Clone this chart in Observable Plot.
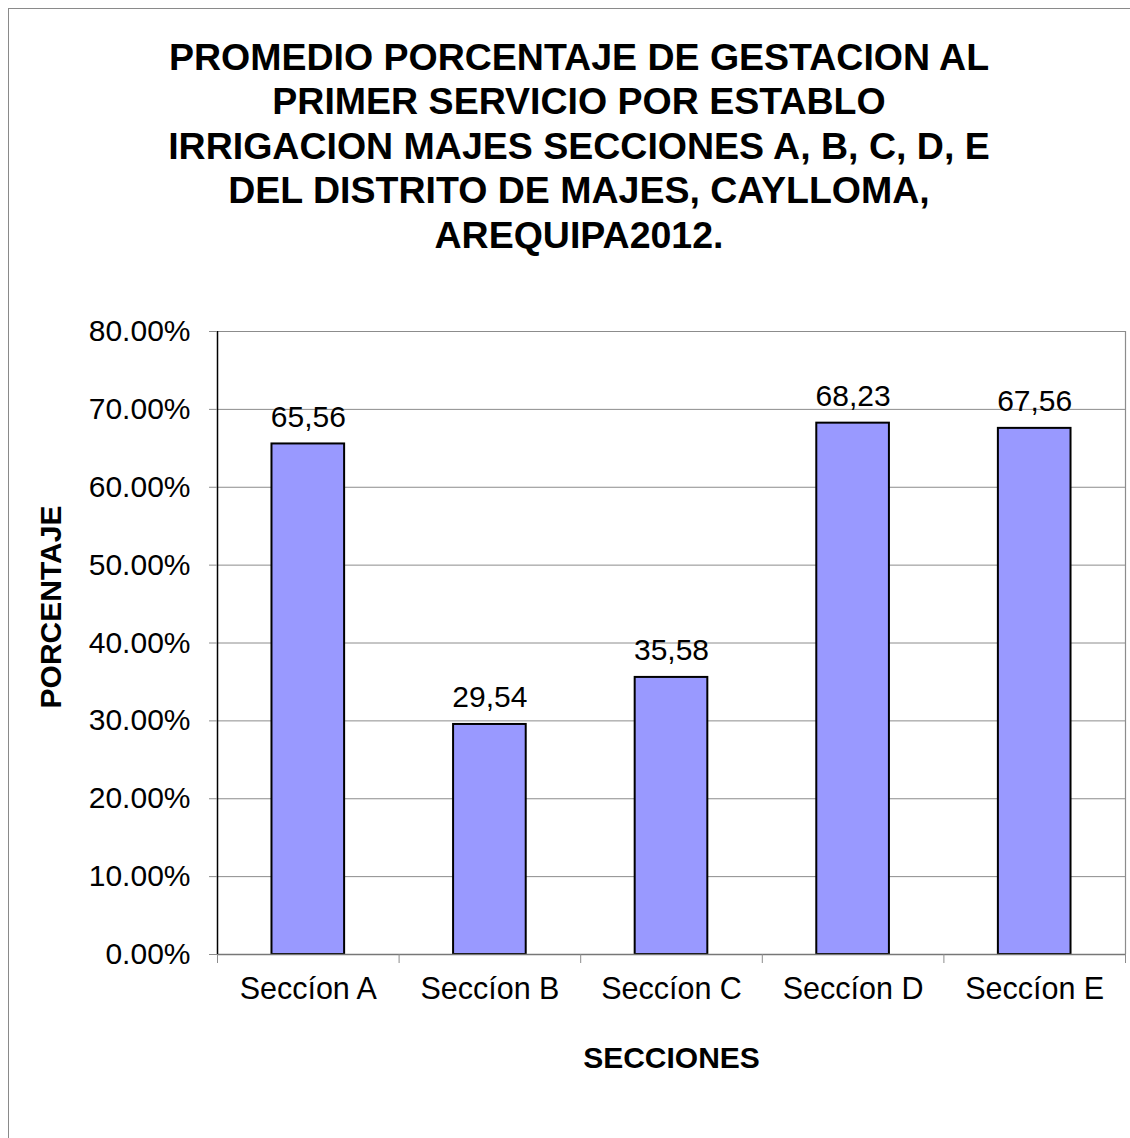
<!DOCTYPE html>
<html>
<head>
<meta charset="utf-8">
<script src="https://cdn.jsdelivr.net/npm/d3@7"></script>
<script src="https://cdn.jsdelivr.net/npm/@observablehq/plot@0.6"></script>
<style>
  html, body { margin: 0; padding: 0; background: #fff; overflow: hidden; }
  #wrap { position: relative; width: 1130px; height: 1138px; overflow: hidden; background: #fff;
          font-family: "Liberation Sans", Arial, sans-serif; }
  #frame { position: absolute; left: 8px; top: 8px; width: 1300px; height: 1300px;
           border: 1px solid #8a8a8a; box-sizing: border-box; }
  #title { position: absolute; left: 8px; top: 35px; width: 1142px; text-align: center;
           font-weight: bold; font-size: 37.5px; line-height: 44.4px; color: #000; margin: 0; }
  #chart { position: absolute; left: 0; top: 0; }
</style>
</head>
<body>
<div id="wrap">
  <div id="frame"></div>
  <div id="chart"></div>
  <div id="title"></div>
</div>
<script>
const titleLines = [
  "PROMEDIO PORCENTAJE DE GESTACION AL",
  "PRIMER SERVICIO POR ESTABLO",
  "IRRIGACION MAJES SECCIONES A, B, C, D, E",
  "DEL DISTRITO DE MAJES, CAYLLOMA,",
  "AREQUIPA2012."
];
const categories = ["Seccíon A", "Seccíon B", "Seccíon C", "Seccíon D", "Seccíon E"];
const values = [65.56, 29.54, 35.58, 68.23, 67.56];
const valueLabels = ["65,56", "29,54", "35,58", "68,23", "67,56"];
const yTicks = [0, 10, 20, 30, 40, 50, 60, 70, 80];
const yTitle = "PORCENTAJE";
const xTitle = "SECCIONES";

document.getElementById("title").innerHTML = titleLines.map(t => `<div>${t}</div>`).join("");

const data = categories.map((c, i) => ({cat: c, idx: i, value: values[i], label: valueLabels[i]}));
const barHalf = 0.2;
const boundaries = d3.range(categories.length + 1);
const centers = categories.map((c, i) => i + 0.5);

const chart = Plot.plot({
  width: 1130,
  height: 1138,
  marginLeft: 217,
  marginRight: 5,
  marginTop: 331,
  marginBottom: 184,
  style: {fontFamily: '"Liberation Sans", Arial, sans-serif', background: "transparent", color: "#000"},
  x: {domain: [0, categories.length], axis: null},
  y: {domain: [0, 80], axis: null},
  marks: [
    Plot.gridY(yTicks, {stroke: "#8c8c8c", strokeOpacity: 1, strokeWidth: 1}),
    Plot.ruleX([categories.length], {stroke: "#8c8c8c", strokeWidth: 1.2}),
    Plot.rectY(data, {x1: d => d.idx + 0.5 - barHalf, x2: d => d.idx + 0.5 + barHalf, y1: 0, y2: "value",
      fill: "#9999FF", stroke: "#000", strokeWidth: 2}),
    Plot.ruleY([0], {stroke: "#777", strokeWidth: 1.5}),
    Plot.ruleX([0], {stroke: "#000", strokeWidth: 1.5}),
    Plot.axisY({ticks: yTicks, tickFormat: d => d.toFixed(2) + "%", tickSize: 8, tickPadding: 19,
      stroke: "#8c8c8c", fill: "#000", fontSize: 30, label: null}),
    Plot.axisX({ticks: boundaries, tickFormat: () => "", tickSize: 9, stroke: "#8c8c8c", label: null}),
    Plot.axisX({ticks: centers, tickFormat: d => categories[Math.round(d - 0.5)], tickSize: 0, tickPadding: 23,
      fill: "#000", fontSize: 30.5, label: null}),
    Plot.text(data, {x: d => d.idx + 0.5, y: "value", text: "label", dy: -27, fontSize: 30, fill: "#000",
      lineAnchor: "middle"}),
    Plot.text([yTitle], {frameAnchor: "left", dx: -166, dy: -36, rotate: -90, textAnchor: "middle",
      lineAnchor: "middle", fontSize: 30, fontWeight: "bold", fill: "#000"}),
    Plot.text([xTitle], {frameAnchor: "bottom", dy: 113, fontSize: 30, fontWeight: "bold", fill: "#000"})
  ]
});
document.getElementById("chart").appendChild(chart);
</script>
</body>
</html>
